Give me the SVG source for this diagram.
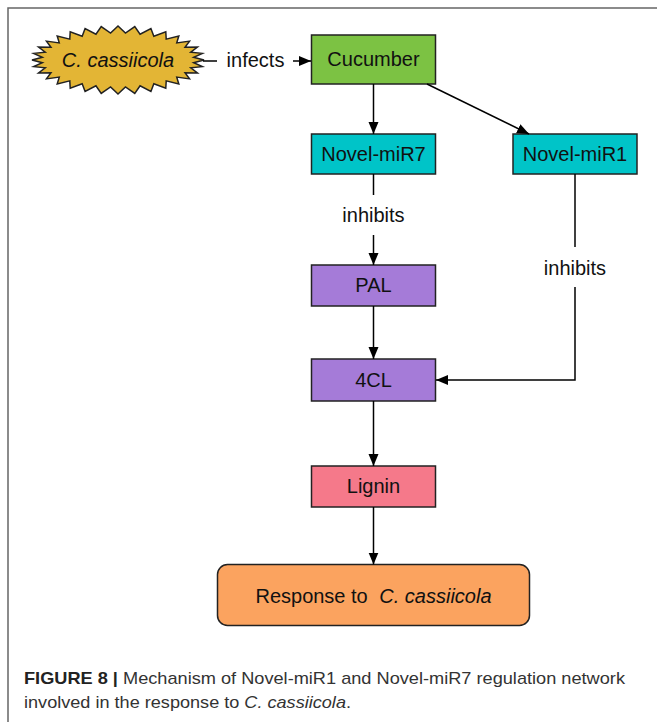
<svg xmlns="http://www.w3.org/2000/svg" width="657" height="722" viewBox="0 0 657 722">
<defs>
<marker id="ah" markerUnits="userSpaceOnUse" markerWidth="12" markerHeight="12" viewBox="0 0 12 12" refX="12" refY="6" orient="auto">
<path d="M0,1 L12,6 L0,11 Z" fill="#000"/>
</marker>
<style>
.box{stroke:#222;stroke-width:1.5}
.t{font-family:"Liberation Sans",Arial,sans-serif;font-size:20px;fill:#111;text-anchor:middle}
.it{font-style:italic}
.c{stroke:#000;stroke-width:1.5;fill:none}
.cap{font-family:"Liberation Sans",Arial,sans-serif;font-size:17px;fill:#333}
</style>
</defs>
<rect width="657" height="722" fill="#fff"/>
<path d="M8,722 L8,8 L657,8" fill="none" stroke="#666" stroke-width="1.5"/>

<g id="node-ccassiicola">
<polygon class="box" fill="#E3B535" points="204,60 193.63,57.35 202.35,53.37 190.73,52.16 197.45,46.99 185.03,47.27 189.51,41.11 176.75,42.87 178.81,35.96 166.21,39.13 165.78,31.73 153.83,36.19 150.91,28.59 140.06,34.16 134.78,26.65 125.45,33.13 118,26 110.55,33.13 101.22,26.65 95.94,34.16 85.09,28.59 82.17,36.19 70.22,31.73 69.79,39.13 57.19,35.96 59.25,42.87 46.49,41.11 50.97,47.27 38.55,46.99 45.27,52.16 33.65,53.37 42.37,57.35 32,60 42.37,62.65 33.65,66.63 45.27,67.84 38.55,73.01 50.97,72.73 46.49,78.89 59.25,77.13 57.19,84.04 69.79,80.87 70.22,88.27 82.17,83.81 85.09,91.41 95.94,85.84 101.22,93.35 110.55,86.87 118,94 125.45,86.87 134.78,93.35 140.06,85.84 150.91,91.41 153.83,83.81 165.78,88.27 166.21,80.87 178.81,84.04 176.75,77.13 189.51,78.89 185.03,72.73 197.45,73.01 190.73,67.84 202.35,66.63 193.63,62.65"/>
<text class="t it" x="118" y="67">C. cassiicola</text>
</g>

<g id="node-cucumber">
<rect class="box" x="311.5" y="35" width="124" height="49" fill="#7CC243"/>
<text class="t" x="373.5" y="66">Cucumber</text>
</g>

<g id="node-mir7">
<rect class="box" x="311.5" y="134" width="124" height="40" fill="#00C4C8"/>
<text class="t" x="373.5" y="161">Novel-miR7</text>
</g>

<g id="node-mir1">
<rect class="box" x="513" y="134" width="124" height="40" fill="#00C4C8"/>
<text class="t" x="575" y="161">Novel-miR1</text>
</g>

<g id="node-pal">
<rect class="box" x="311.5" y="265" width="124" height="41" fill="#A57BD8"/>
<text class="t" x="373.5" y="292">PAL</text>
</g>

<g id="node-4cl">
<rect class="box" x="311.5" y="359" width="124" height="42" fill="#A57BD8"/>
<text class="t" x="373.5" y="387">4CL</text>
</g>

<g id="node-lignin">
<rect class="box" x="311.5" y="466" width="124" height="41" fill="#F5798A"/>
<text class="t" x="373.5" y="493">Lignin</text>
</g>

<g id="node-response">
<rect class="box" x="217.5" y="564.5" width="312" height="61" rx="10" fill="#FBA35F"/>
<text class="t" x="373.5" y="603">Response to <tspan class="it" dx="6">C. cassiicola</tspan></text>
</g>

<g id="connectors">
<line class="c" x1="203" y1="61" x2="217" y2="61"/>
<text class="t" x="255.5" y="67">infects</text>
<line class="c" x1="293" y1="61" x2="311" y2="61" marker-end="url(#ah)"/>
<line class="c" x1="373.5" y1="84" x2="373.5" y2="134" marker-end="url(#ah)"/>
<line class="c" x1="427" y1="84" x2="529" y2="134" marker-end="url(#ah)"/>
<line class="c" x1="373.5" y1="174" x2="373.5" y2="195"/>
<text class="t" x="373.5" y="222">inhibits</text>
<line class="c" x1="373.5" y1="235" x2="373.5" y2="265" marker-end="url(#ah)"/>
<line class="c" x1="575" y1="174" x2="575" y2="247"/>
<text class="t" x="575" y="275">inhibits</text>
<path class="c" d="M575,287 L575,380 L436,380" marker-end="url(#ah)"/>
<line class="c" x1="373.5" y1="306" x2="373.5" y2="359" marker-end="url(#ah)"/>
<line class="c" x1="373.5" y1="401" x2="373.5" y2="466" marker-end="url(#ah)"/>
<line class="c" x1="373.5" y1="507" x2="373.5" y2="564.5" marker-end="url(#ah)"/>
</g>

<text class="cap" x="24" y="684" textLength="601" lengthAdjust="spacingAndGlyphs"><tspan font-weight="bold" fill="#222">FIGURE 8 |</tspan> Mechanism of Novel-miR1 and Novel-miR7 regulation network</text>
<text class="cap" x="24" y="708" textLength="327" lengthAdjust="spacingAndGlyphs">involved in the response to <tspan font-style="italic">C. cassiicola</tspan>.</text>
</svg>
